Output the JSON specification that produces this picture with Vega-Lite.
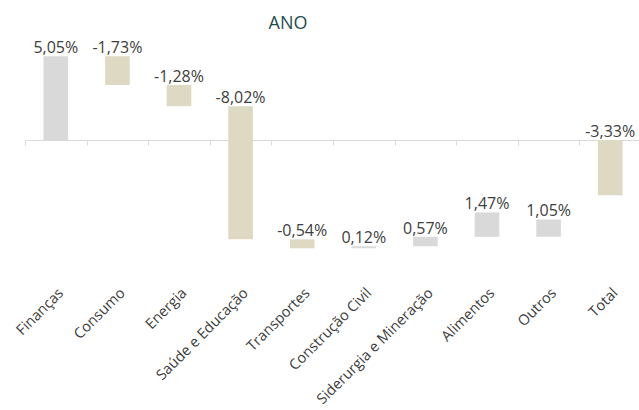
{
  "$schema": "https://vega.github.io/schema/vega-lite/v6.json",
  "width": 616,
  "height": 253,
  "autosize": {"type": "none"},
  "padding": {"left": 25, "top": 30, "right": 0, "bottom": 127},
  "background": "white",
  "config": {"view": {"stroke": null}},
  "title": {"text": "ANO", "font": "Open Sans", "fontSize": 18, "fontWeight": "normal", "color": "#1f4e4d", "anchor": "middle", "dx": -45, "offset": -3},
  "data": {"values": [
    {"setor": "Finanças", "lo": 0, "hi": 5.05, "rotulo": "5,05%", "tipo": "pos"},
    {"setor": "Consumo", "lo": 3.32, "hi": 5.05, "rotulo": "-1,73%", "tipo": "neg"},
    {"setor": "Energia", "lo": 2.04, "hi": 3.32, "rotulo": "-1,28%", "tipo": "neg"},
    {"setor": "Saúde e Educação", "lo": -5.98, "hi": 2.04, "rotulo": "-8,02%", "tipo": "neg"},
    {"setor": "Transportes", "lo": -6.52, "hi": -5.98, "rotulo": "-0,54%", "tipo": "neg"},
    {"setor": "Construção Civil", "lo": -6.52, "hi": -6.40, "rotulo": "0,12%", "tipo": "pos"},
    {"setor": "Siderurgia e Mineração", "lo": -6.40, "hi": -5.83, "rotulo": "0,57%", "tipo": "pos"},
    {"setor": "Alimentos", "lo": -5.83, "hi": -4.36, "rotulo": "1,47%", "tipo": "pos"},
    {"setor": "Outros", "lo": -5.83, "hi": -4.78, "rotulo": "1,05%", "tipo": "pos"},
    {"setor": "Total", "lo": -3.33, "hi": 0, "rotulo": "-3,33%", "tipo": "neg"}
  ]},
  "encoding": {
    "x": {"field": "setor", "type": "nominal", "sort": null,
      "scale": {"paddingInner": 0.6, "paddingOuter": 0.3}}
  },
  "layer": [
    {
      "mark": {"type": "bar"},
      "encoding": {
        "x": {"field": "setor", "type": "nominal", "sort": null,
          "axis": {"title": null, "domain": false, "ticks": false, "labelAngle": -45, "labelFont": "Open Sans", "labelFontSize": 14.6, "labelColor": "#404040", "labelPadding": 2}},
        "y": {"field": "lo", "type": "quantitative", "scale": {"domain": [-8.61, 6.63], "nice": false, "zero": false}, "axis": null},
        "y2": {"field": "hi"},
        "color": {"field": "tipo", "type": "nominal", "scale": {"domain": ["pos", "neg"], "range": ["#d9d9d9", "#ddd9c3"]}, "legend": null}
      }
    },
    {
      "mark": {"type": "text", "baseline": "alphabetic", "dy": -3, "font": "Open Sans", "fontSize": 16, "color": "#404040"},
      "encoding": {
        "x": {"field": "setor", "type": "nominal", "sort": null,
          "axis": {"title": null, "orient": "top", "labels": false, "domain": true, "domainColor": "#d9d9d9", "ticks": true, "tickColor": "#d9d9d9", "tickSize": -5, "tickOffset": -30.8, "offset": -110}},
        "y": {"field": "hi", "type": "quantitative"},
        "text": {"field": "rotulo"}
      }
    }
  ],
  "resolve": {"axis": {"x": "independent"}}
}
